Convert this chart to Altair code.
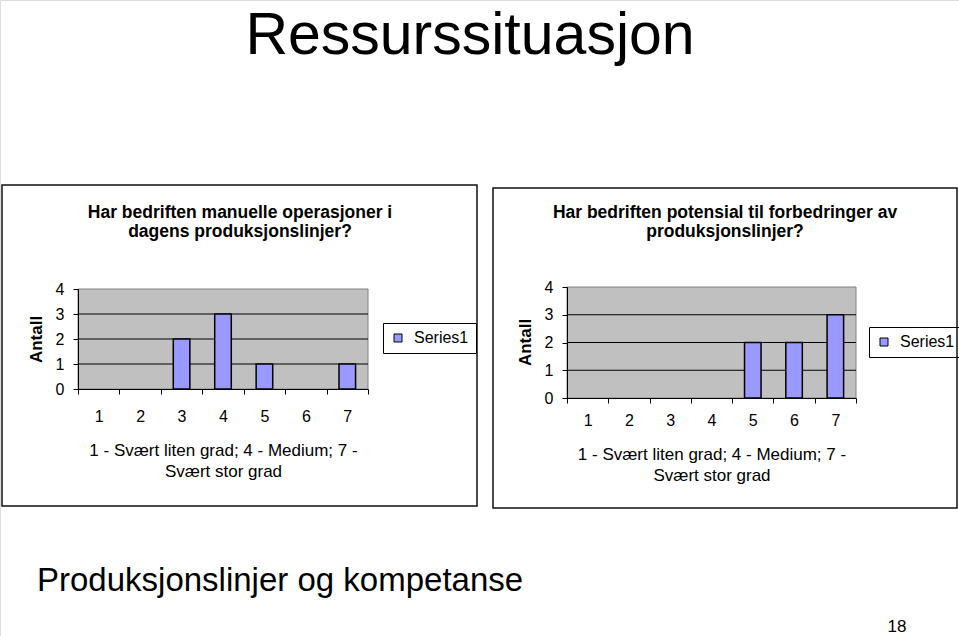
import altair as alt
import pandas as pd

# ---------------- data ----------------
categories = [1, 2, 3, 4, 5, 6, 7]
left_counts = [0, 0, 2, 3, 1, 0, 1]
right_counts = [0, 0, 0, 0, 2, 2, 3]
series_name = "Series1"

slide_title = "Ressurssituasjon"
footer_text = "Produksjonslinjer og kompetanse"
page_number = "18"
left_title = "Har bedriften manuelle operasjoner i\ndagens produksjonslinjer?"
right_title = "Har bedriften potensial til forbedringer av\nproduksjonslinjer?"
y_title = "Antall"
x_title = ["1 - Svært liten grad; 4 - Medium; 7 -", "Svært stor grad"]
y_ticks = [0, 1, 2, 3, 4]
grid_values = [1, 2, 3]
band_edges = [0.5, 1.5, 2.5, 3.5, 4.5, 5.5, 6.5, 7.5]

FONT = "Liberation Sans"
W, H = 959, 636
BAR_FILL = "#9999ff"
PLOT_BG = "#c0c0c0"


def panel(counts, xr, yr, label_pad_x, x_title_x, x_title_y, y_title_y, legend_xy):
    df = pd.DataFrame({"cat": categories, "count": counts, "series": series_name})
    df = df[df["count"] > 0]
    xs = alt.Scale(domain=[0.5, 7.5], range=xr, nice=False, zero=False)
    ys = alt.Scale(domain=[0, 4], range=[yr[0], yr[1]], nice=False, zero=False)
    half_step = (xr[1] - xr[0]) / 7 / 2
    x_axis = alt.Axis(
        orient="bottom", offset=-(H - yr[0]), values=band_edges,
        labelExpr="datum.value < 7 ? format(datum.value + 0.5, 'd') : ''",
        labelOffset=half_step, labelPadding=label_pad_x, labelBaseline="middle",
        labelFontSize=16, labelColor="black", labelFont=FONT,
        labelFlush=False, labelOverlap=False,
        tickSize=5, tickColor="black", domainColor="black", grid=False,
        title=x_title, titleFont=FONT, titleFontSize=17, titleFontWeight="normal",
        titleColor="black", titleAlign="center", titleBaseline="alphabetic",
        titleX=x_title_x, titleY=x_title_y, titleLineHeight=21, zindex=1,
    )
    y_axis = alt.Axis(
        orient="left", offset=-xr[0], values=y_ticks,
        labelFontSize=16, labelColor="black", labelFont=FONT, labelPadding=9,
        tickSize=5, tickColor="black", domainColor="black", grid=False,
        title=y_title, titleFont=FONT, titleFontSize=17, titleFontWeight="bold",
        titleColor="black", titleAngle=270, titleAlign="center", titleBaseline="middle",
        titleX=-42, titleY=y_title_y, zindex=1,
    )
    bg = alt.Chart().mark_rect(fill=PLOT_BG, stroke="#808080", strokeWidth=1).encode(
        x=alt.XDatum(0.5, scale=xs, axis=x_axis),
        x2=alt.X2Datum(7.5),
        y=alt.YDatum(0, scale=ys, axis=y_axis),
        y2=alt.Y2Datum(4),
    )
    grid = alt.Chart(pd.DataFrame({"g": grid_values})).mark_rule(
        color="black", strokeWidth=1
    ).encode(
        y=alt.Y("g:Q", scale=ys, axis=y_axis),
        x=alt.XDatum(0.5, scale=xs, axis=x_axis),
        x2=alt.X2Datum(7.5),
    )
    bars = alt.Chart(df).transform_calculate(
        x0="datum.cat - 0.2", x1="datum.cat + 0.2"
    ).mark_bar(stroke="#000000", strokeWidth=1.5).encode(
        x=alt.X("x0:Q", scale=xs, axis=x_axis),
        x2=alt.X2("x1:Q"),
        y=alt.Y("count:Q", scale=ys, axis=y_axis),
        y2=alt.Y2Datum(0),
        color=alt.Color(
            "series:N",
            scale=alt.Scale(domain=[series_name], range=[BAR_FILL]),
            legend=alt.Legend(
                orient="none", legendX=legend_xy[0], legendY=legend_xy[1],
                title=None, strokeColor="black", padding=7, cornerRadius=0,
                symbolType="square", symbolSize=64, symbolStrokeColor="black",
                symbolStrokeWidth=1, labelFontSize=16, labelFont=FONT,
                labelColor="black", labelOffset=8,
            ),
        ),
    )
    return alt.layer(bg, grid, bars)


left = panel(left_counts, [78, 368], [389, 289], 22, 223, 66, 339, (383, 323))
right = panel(right_counts, [567, 856], [398, 287], 17, 711.5, 61, 342, (869, 327))

frame_left = alt.Chart().mark_rect(fill=None, stroke="#111111", strokeWidth=1.5).encode(
    x=alt.value(2), x2=alt.value(477), y=alt.value(185), y2=alt.value(506)
)
frame_right = alt.Chart().mark_rect(fill=None, stroke="#111111", strokeWidth=1.5).encode(
    x=alt.value(493), x2=alt.value(957), y=alt.value(188), y2=alt.value(508)
)


def text_layer(txt, x, y, size, align="center", weight="normal", line_height=None):
    kw = {}
    if line_height is not None:
        kw["lineHeight"] = line_height
    return alt.Chart(pd.DataFrame({"t": [txt]})).mark_text(
        font=FONT, fontSize=size, align=align, baseline="alphabetic",
        fontWeight=weight, color="black", lineBreak="\n", **kw
    ).encode(text="t:N", x=alt.value(x), y=alt.value(y))


t_slide = text_layer(slide_title, 470, 54, 59)
t_footer = text_layer(footer_text, 37, 591, 33, align="left")
t_page = text_layer(page_number, 897, 632, 17)
t_left = text_layer(left_title, 240, 218, 17.5, weight="bold", line_height=19)
t_right = text_layer(right_title, 725, 218, 17.5, weight="bold", line_height=19)

chart = alt.layer(
    frame_left, frame_right, left, right, t_slide, t_footer, t_page, t_left, t_right
).resolve_scale(
    x="independent", y="independent", color="independent"
).resolve_axis(
    x="independent", y="independent"
).resolve_legend(
    color="independent"
).properties(
    width=W, height=H, autosize=alt.AutoSizeParams(type="none"), padding=0,
    background="white",
).configure_view(stroke=None).configure(font=FONT)

chart.save("out.html", embed_options={"renderer": "svg", "actions": False})
